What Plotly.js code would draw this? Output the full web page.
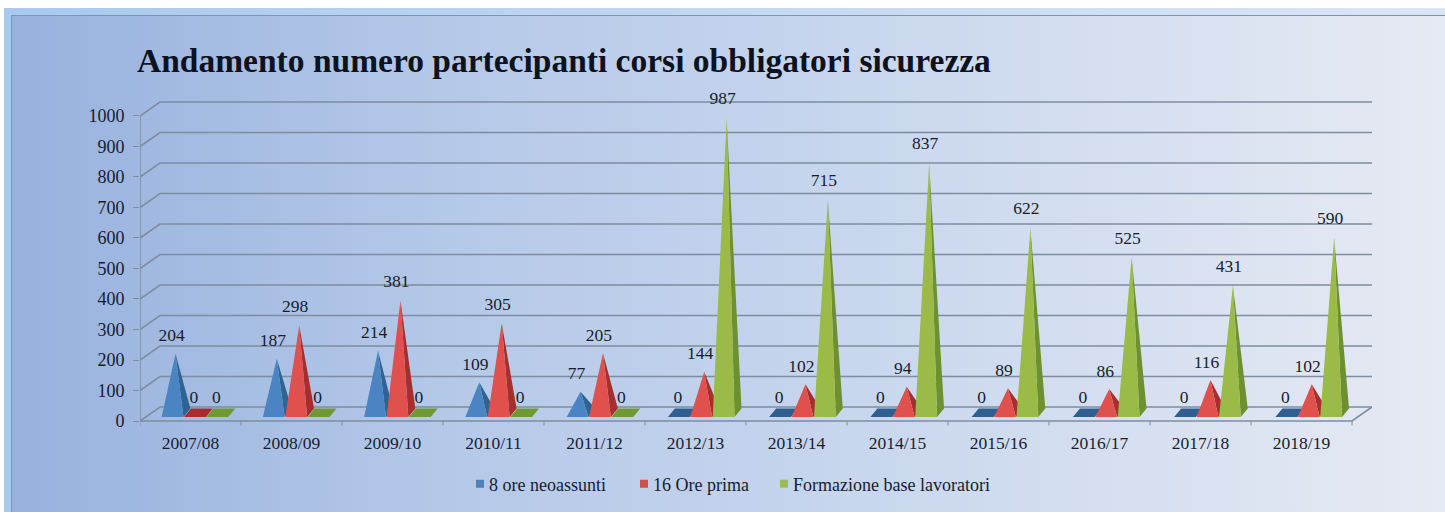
<!DOCTYPE html>
<html><head><meta charset="utf-8">
<script src="https://cdn.plot.ly/plotly-3.0.1.min.js"></script>
<style>
html,body{margin:0;padding:0;background:#fff;width:1445px;height:512px;overflow:hidden}
#outer{position:absolute;left:4px;top:8px;width:1441px;height:504px;background:linear-gradient(90deg,#a9c9ef,#dbe6f5)}
#inner{position:absolute;left:7px;top:7px;width:1434px;height:497px;border-top:1px solid #8095ac;border-left:1px solid #8095ac;background:linear-gradient(90deg,#98b2de 0%,#b4c8e8 30%,#c9d7ee 60%,#e6eaf3 100%)}
#chart{position:absolute;left:0;top:0;width:1445px;height:512px}
</style></head><body>
<div id="outer"><div id="inner"></div></div>
<div id="chart"></div>
<script>
const categories=['2007/08','2008/09','2009/10','2010/11','2011/12','2012/13','2013/14','2014/15','2015/16','2016/17','2017/18','2018/19'];
const neoassunti=[204,187,214,109,77,0,0,0,0,0,0,0];
const primaOre=[0,298,381,305,205,144,102,94,89,86,116,102];
const baseLavoratori=[0,0,0,0,0,987,715,837,622,525,431,590];
const seriesNames=['8 ore neoassunti','16 Ore prima','Formazione base lavoratori'];
const yTicks=[0,100,200,300,400,500,600,700,800,900,1000];

const font='"Liberation Serif","Times New Roman",serif';
const ink='#161d2e';
const PX=1/101, PY=1/0.305;           // one screen pixel in axis units
const backX=20*PX, backY=14*PY;       // depth of the chart floor
const halfW=10.9*PX, sideX=7*PX;
const baseFront=4*PY, baseBack=12.5*PY;
const series=[
 {values:neoassunti,front:'#4a84c2',side:'#2f6491',flat:'#2f5f90',legend:'#4f81bd',offset:-0.178,legendId:'legend',legendX:464},
 {values:primaOre,front:'#e0504c',side:'#a52f2d',flat:'#a92b2d',legend:'#d0504c',offset:0.044,legendId:'legend2',legendX:628},
 {values:baseLavoratori,front:'#9abb48',side:'#6f9030',flat:'#6f9a33',legend:'#9bbb59',offset:0.266,legendId:'legend3',legendX:768}
];
const centre=(i,s)=>i+s.offset+0.0025*i;
const apexY=v=>20+0.984*v;

const traces=[];
// back wall + floor grid
const gx=[],gy=[];
yTicks.forEach(v=>{gx.push(-0.5,-0.5+backX,11.5+backX,null);gy.push(v,v+backY,v+backY,null);});
gx.push(11.5+backX,11.5,-0.5,-0.5,null);gy.push(backY,0,0,1000,null);
traces.push({type:'scatter',mode:'lines',x:gx,y:gy,cliponaxis:false,showlegend:false,hoverinfo:'skip',line:{color:'#7e8d9f',width:1.6}});
// category boundary ticks
const tx=[],ty=[];
for(let i=0;i<=categories.length;i++){tx.push(i-0.5,i-0.5,null);ty.push(0,-4.5*PY,null);}
traces.push({type:'scatter',mode:'lines',x:tx,y:ty,cliponaxis:false,showlegend:false,hoverinfo:'skip',line:{color:'#7e8d9f',width:1}});

series.forEach(s=>{
 const fx=[],fy=[],sx=[],sy=[],bx=[],by=[];
 s.values.forEach((v,i)=>{
  const c=centre(i,s);
  if(v===0){
   bx.push(c-halfW,c+halfW,c+halfW+sideX,c-halfW+sideX,c-halfW,null);
   by.push(baseFront,baseFront,baseBack,baseBack,baseFront,null);
  }else{
   const ax=c+3*PX, ay=apexY(v);
   fx.push(c-halfW,c+halfW,ax,c-halfW,null);
   fy.push(baseFront,baseFront,ay,baseFront,null);
   sx.push(c+halfW,c+halfW+sideX,ax,c+halfW,null);
   sy.push(baseFront,baseBack,ay,baseFront,null);
  }
 });
 const face=(x,y,color)=>({type:'scatter',mode:'lines',x,y,fill:'toself',fillcolor:color,line:{width:0,color},showlegend:false,hoverinfo:'skip',cliponaxis:false});
 traces.push(face(bx,by,s.flat),face(sx,sy,s.side),face(fx,fy,s.front));
});
// value labels
series.forEach(s=>{
 traces.push({type:'scatter',mode:'text',cliponaxis:false,showlegend:false,hoverinfo:'skip',
  x:s.values.map((v,i)=>centre(i,s)-1*PX),
  y:s.values.map(v=>apexY(v)+(16.5+0.003*v)*PY),
  text:s.values.map(String),textposition:'middle center',
  textfont:{family:font,size:17.5,color:ink}});
});
// legend keys
series.forEach((s,k)=>{
 traces.push({type:'scatter',mode:'markers',x:[null],y:[null],name:seriesNames[k],legend:s.legendId,
  marker:{symbol:'square',size:8,color:s.legend}});
});

const layout={
 width:1445,height:512,autosize:false,
 paper_bgcolor:'rgba(0,0,0,0)',plot_bgcolor:'rgba(0,0,0,0)',
 margin:{l:140,r:73,t:90,b:86},
 title:{text:'<b>Andamento numero partecipanti corsi obbligatori sicurezza</b>',
  x:137/1445,xanchor:'left',xref:'container',y:1-60/512,yanchor:'middle',yref:'container',
  font:{family:font,size:33.5,color:'#0d1220'}},
 xaxis:{range:[-0.5,11.5+backX],tickmode:'array',tickvals:categories.map((c,i)=>i),ticktext:categories,
  showgrid:false,zeroline:false,showline:false,ticks:'',tickfont:{family:font,size:17.5,color:ink},ticklabelstandoff:4},
 yaxis:{range:[-16.4,1085.2],tickmode:'array',tickvals:yTicks,ticktext:yTicks.map(String),
  showgrid:false,zeroline:false,showline:false,ticks:'outside',ticklen:6,tickcolor:'#7e8d9f',tickwidth:1,
  tickfont:{family:font,size:18,color:ink},ticklabelstandoff:5},
 showlegend:true
};
series.forEach(s=>{
 layout[s.legendId]={orientation:'h',xref:'container',yref:'container',x:s.legendX/1445,xanchor:'left',y:1-484/512,yanchor:'middle',
  font:{family:font,size:18,color:ink},bgcolor:'rgba(0,0,0,0)',itemwidth:30,indentation:-15};
});
Plotly.newPlot('chart',traces,layout,{displayModeBar:false,staticPlot:true}).then(()=>{
 // legend keys sit right next to their text in the reference
 document.querySelectorAll('#chart .legendsymbols').forEach(g=>g.setAttribute('transform','translate(11,0)'));
});
</script>
</body></html>
